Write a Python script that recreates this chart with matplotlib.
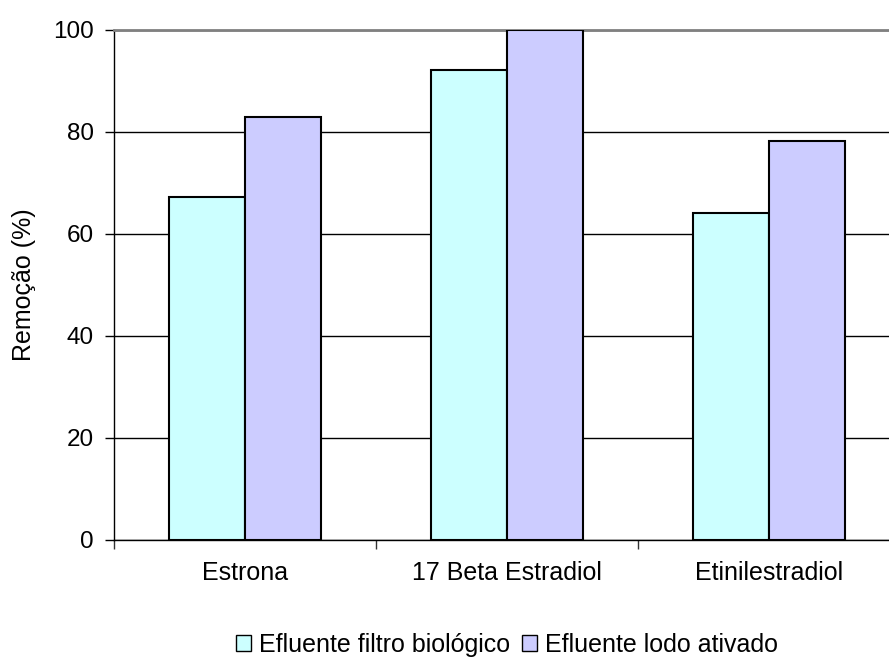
import numpy as np
import matplotlib.pyplot as plt
from matplotlib.patches import Patch

plt.rcParams['font.family'] = ['Liberation Sans', 'DejaVu Sans']

# Remoção dos hormônios por tipo de efluente
compostos = ['Estrona', '17 Beta Estradiol', 'Etinilestradiol']
filtro_biologico = [67.2, 92.2, 64.1]
lodo_ativado = [82.9, 100.0, 78.2]

fig = plt.figure(figsize=(8.89, 6.57), dpi=100)
# plot area runs slightly past the right border of the image
ax = fig.add_axes([114 / 889, 1 - 540 / 657, (900 - 114) / 889, 510 / 657])

x = np.arange(len(compostos))
w = 0.29
ax.bar(x - w / 2, filtro_biologico, w, color='#CCFFFF', edgecolor='black', linewidth=1.5,
       label='Efluente filtro biológico', zorder=3)
ax.bar(x + w / 2, lodo_ativado, w, color='#CCCCFF', edgecolor='black', linewidth=1.5,
       label='Efluente lodo ativado', zorder=3)

ax.set_xlim(-0.5, 2.5)
ax.set_ylim(0, 100)
ax.set_yticks([0, 20, 40, 60, 80, 100])
ax.set_xticks(x)
ax.set_xticklabels(compostos)
ax.set_xticks([-0.5, 0.5, 1.5, 2.5], minor=True)
ax.tick_params(axis='x', which='major', length=0, pad=15, labelsize=18)
ax.tick_params(axis='x', which='minor', length=6.5, width=1, color='#333333')
ax.tick_params(axis='y', length=6.5, width=1, labelsize=17.5, pad=8)

ax.yaxis.grid(True, color='black', linewidth=1, zorder=0)
for s in ['top', 'right']:
    ax.spines[s].set_color('#808080')
    ax.spines[s].set_linewidth(2)
ax.spines['left'].set_linewidth(1)
ax.spines['bottom'].set_linewidth(1)
ax.spines['bottom'].set_zorder(4)

ax.set_ylabel('Remoção (%)', fontsize=18, labelpad=12)

handles = [Patch(facecolor='#CCFFFF', edgecolor='black', label='Efluente filtro biológico'),
           Patch(facecolor='#CCCCFF', edgecolor='black', label='Efluente lodo ativado')]
fig.legend(handles=handles, loc='center', bbox_to_anchor=(507 / 889, 1 - 645 / 657), ncol=2,
           frameon=False, fontsize=18, handlelength=0.6, handleheight=0.6,
           handletextpad=0.3, columnspacing=0.5, borderpad=0)

fig.savefig('out.png', dpi=100)
